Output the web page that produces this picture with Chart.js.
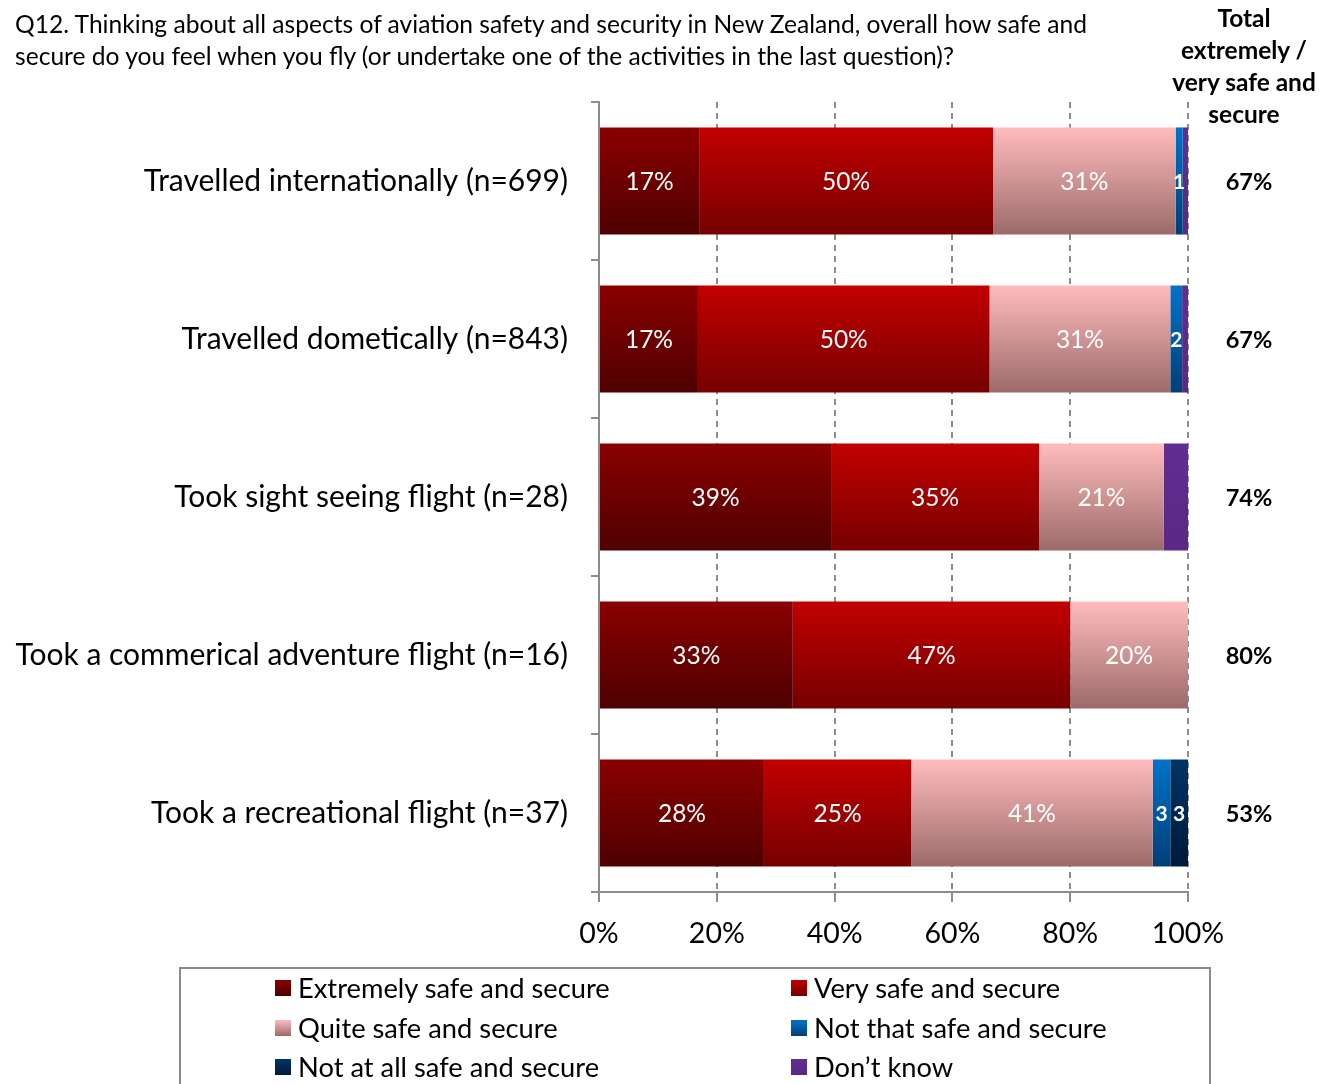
<!DOCTYPE html>
<html>
<head>
<meta charset="utf-8">
<script src="https://cdn.jsdelivr.net/npm/chart.js@4.4.1/dist/chart.umd.min.js"></script>
<style>
  html, body { margin: 0; padding: 0; background: #fff; }
  #wrap { position: relative; width: 1319px; height: 1084px; overflow: hidden; font-family: Lato, "Open Sans", sans-serif; color: #000; }
  #chart { position: absolute; left: 0; top: 0; }
  #title { position: absolute; left: 15px; top: 8px; font-size: 24.6px; line-height: 32px; white-space: nowrap; }
  #totalHead { position: absolute; left: 1159px; width: 170px; top: 2px; font-size: 24.5px; line-height: 32px; font-weight: bold; text-align: center; }
  #legend { position: absolute; left: 179px; top: 967px; width: 1032px; height: 140px; border: 2px solid #8c8c8c; box-sizing: border-box; }
  .lg { position: absolute; font-size: 27.3px; line-height: 30px; white-space: nowrap; }
  .lg i { position: absolute; left: -23px; top: 7px; width: 16px; height: 16px; }
</style>
</head>
<body>
<div id="wrap">
  <canvas id="chart" width="1319" height="1084"></canvas>
  <div id="title">Q12. Thinking about all aspects of aviation safety and security in New Zealand, overall how safe and<br>secure do you feel when you fly (or undertake one of the activities in the last question)?</div>
  <div id="totalHead">Total<br>extremely /<br>very safe and<br>secure</div>
  <div id="legend"></div>
</div>
<script>
// Survey groups and answer shares (% of respondents)
const categories = [
  'Travelled internationally (n=699)',
  'Travelled dometically (n=843)',
  'Took sight seeing flight (n=28)',
  'Took a commerical adventure flight (n=16)',
  'Took a recreational flight (n=37)'
];
const seriesNames = [
  'Extremely safe and secure',
  'Very safe and secure',
  'Quite safe and secure',
  'Not that safe and secure',
  'Not at all safe and secure',
  'Don\u2019t know'
];
const extremelySafe = [17.0, 16.8, 39.4, 32.9, 28];
const verySafe      = [49.9, 49.5, 35.3, 47.1, 25];
const quiteSafe     = [31.0, 30.7, 21.2, 20.0, 41];
const notThatSafe   = [1.2, 2.0, 0, 0, 3];
const notAtAllSafe  = [0, 0, 0, 0, 3];
const dontKnow      = [0.9, 1.0, 4.1, 0, 0];
const totalExtremelyVery = [67, 67, 74, 80, 53];
const xTicks = [0, 20, 40, 60, 80, 100];

// Vertical gradient stops per series: [top, bottom]
const shades = [
  ['#8a0000', '#4f0000'],
  ['#c20000', '#760000'],
  ['#ffbcbc', '#9c6a6a'],
  ['#0073c9', '#003f78'],
  ['#003466', '#001a38'],
  ['#622d90', '#5a2886']
];
// Which series get a label inside the bar, and how
const labelStyle = ['pct', 'pct', 'pct', 'num', 'num', 'none'];

const seriesValues = [extremelySafe, verySafe, quiteSafe, notThatSafe, notAtAllSafe, dontKnow];
const FONT = 'Lato, "Open Sans", sans-serif';

function barFill(i) {
  return function (ctx) {
    const chart = ctx.chart;
    const ys = chart.scales && chart.scales.y;
    if (!chart.chartArea || !ys || ctx.dataIndex === undefined) return shades[i][0];
    const c = ys.getPixelForValue(ctx.dataIndex);
    const half = (ys.height / categories.length) * 0.678 / 2;
    const g = chart.ctx.createLinearGradient(0, c - half, 0, c + half);
    g.addColorStop(0, shades[i][0]);
    g.addColorStop(1, shades[i][1]);
    return g;
  };
}

const datasets = seriesNames.map((name, i) => ({
  label: name,
  data: seriesValues[i],
  backgroundColor: barFill(i),
  borderWidth: 0,
  categoryPercentage: 1,
  barPercentage: 0.678
}));

// Labels inside segments and the totals column on the right
const barText = {
  id: 'barText',
  afterDatasetsDraw(chart) {
    const ctx = chart.ctx;
    ctx.save();
    ctx.textAlign = 'center';
    ctx.textBaseline = 'middle';
    chart.data.datasets.forEach((ds, i) => {
      const meta = chart.getDatasetMeta(i);
      meta.data.forEach((bar, j) => {
        const v = ds.data[j];
        if (!v || labelStyle[i] === 'none') return;
        const cx = (bar.x + bar.base) / 2;
        ctx.fillStyle = '#ffffff';
        if (labelStyle[i] === 'pct') {
          ctx.font = '24.5px ' + FONT;
          ctx.fillText(Math.round(v) + '%', cx, bar.y + 1);
        } else {
          ctx.font = 'bold 21px ' + FONT;
          ctx.fillText(String(Math.round(v)), cx, bar.y + 1);
        }
      });
    });
    const ys = chart.scales.y;
    ctx.fillStyle = '#000';
    ctx.font = 'bold 23.6px ' + FONT;
    totalExtremelyVery.forEach((t, j) => {
      ctx.fillText(t + '%', 1249, ys.getPixelForValue(j) + 1);
    });
    ctx.restore();
  }
};

const chart = new Chart(document.getElementById('chart'), {
  type: 'bar',
  data: { labels: categories, datasets },
  options: {
    responsive: false,
    animation: false,
    indexAxis: 'y',
    layout: { padding: { left: 0, top: 102, right: 131, bottom: 132 } },
    plugins: { legend: { display: false }, tooltip: { enabled: false } },
    scales: {
      x: {
        stacked: true,
        min: 0,
        max: 100,
        afterBuildTicks(scale) { scale.ticks = xTicks.map(v => ({ value: v })); },
        afterFit(scale) { scale.height = 60; },
        ticks: {
          callback: v => v + '%',
          color: '#000',
          font: { family: FONT, size: 28.5 },
          padding: 15
        },
        border: { display: true, color: '#8c8c8c', width: 2, dash: [6, 5] },
        grid: {
          color: ctx => (ctx.tick && ctx.tick.value === 0) ? 'rgba(0,0,0,0)' : '#8c8c8c',
          lineWidth: 2,
          drawTicks: true,
          tickLength: 10,
          tickColor: '#8c8c8c',
          tickWidth: 2,
          tickBorderDash: []
        }
      },
      y: {
        stacked: true,
        afterFit(scale) { scale.width = 599; },
        ticks: {
          color: '#000',
          font: { family: FONT, size: 30 },
          padding: 23
        },
        border: { display: true, color: '#8c8c8c', width: 2 },
        grid: {
          offset: true,
          drawOnChartArea: false,
          drawTicks: true,
          tickLength: 8,
          tickColor: '#8c8c8c',
          lineWidth: 2
        }
      }
    }
  },
  plugins: [barText]
});

// Legend built from the chart's datasets: two columns, three rows
const legend = document.getElementById('legend');
chart.data.datasets.forEach((ds, i) => {
  const el = document.createElement('div');
  el.className = 'lg';
  const col = i % 2, row = Math.floor(i / 2);
  el.style.left = (col === 0 ? 117 : 633) + 'px';
  el.style.top = (4 + row * 39.5) + 'px';
  const sw = document.createElement('i');
  sw.style.background = 'linear-gradient(' + shades[i][0] + ',' + shades[i][1] + ')';
  el.appendChild(sw);
  el.appendChild(document.createTextNode(ds.label));
  legend.appendChild(el);
});
</script>
</body>
</html>
